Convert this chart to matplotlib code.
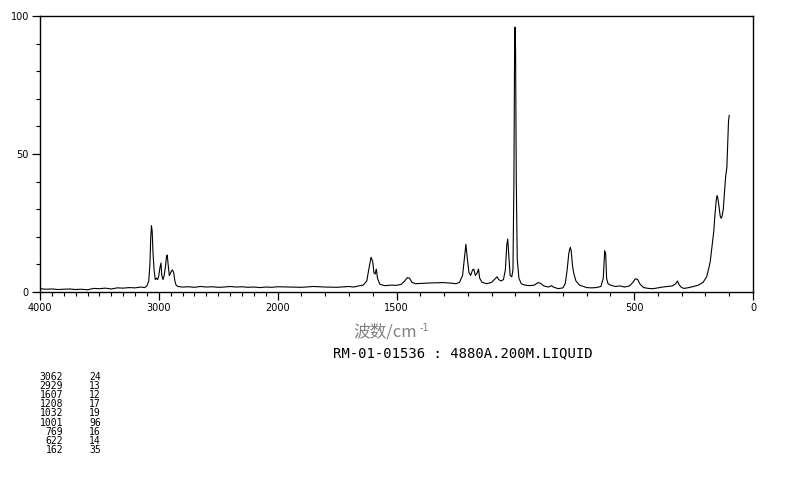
import numpy as np
import matplotlib
matplotlib.use("Agg")
import matplotlib.pyplot as plt

# Raman spectrum (wavenumber in cm-1, relative intensity)
wavenumber = [
    4000, 3950, 3900, 3850, 3800, 3750, 3700, 3650, 3600, 3550, 3500, 3450,
    3400, 3350, 3300, 3250, 3200, 3150, 3120, 3100, 3085, 3075, 3068, 3062,
    3056, 3050, 3040, 3030, 3020, 3010, 3000, 2990, 2982, 2975, 2965, 2955,
    2945, 2935, 2929, 2922, 2912, 2905, 2895, 2885, 2875, 2865, 2855, 2840,
    2800, 2750, 2700, 2650, 2600, 2550, 2500, 2450, 2400, 2350, 2300, 2250,
    2200, 2150, 2100, 2050, 2000, 1950, 1900, 1850, 1800, 1750, 1700, 1680,
    1660, 1640, 1625, 1615, 1607, 1600, 1595, 1590, 1585, 1580, 1570, 1550,
    1520, 1500, 1480, 1465, 1455, 1445, 1435, 1420, 1400, 1350, 1300, 1270,
    1250, 1235, 1222, 1212, 1208, 1202, 1195, 1188, 1180, 1175, 1168, 1160,
    1155, 1150, 1140, 1120, 1100, 1085, 1077, 1070, 1060, 1050, 1042, 1036,
    1032, 1028, 1022, 1015, 1010, 1006, 1003, 1001, 999, 996, 992, 985,
    975, 960, 940, 920, 905, 895, 880, 860, 848, 840, 820, 800,
    790, 782, 775, 769, 765, 760, 755, 745, 730, 700, 680, 660,
    640, 630, 624, 620, 616, 610, 600, 580, 560, 540, 520, 505,
    495, 485, 475, 460, 440, 420, 400, 380, 360, 340, 325, 318,
    310, 300, 290, 270, 250, 230, 210, 195, 185, 180, 172, 165,
    160, 155, 151, 148, 143, 138, 134, 130, 125, 120, 115, 110,
    106, 103, 100,
]
intensity = [
    1.2, 1.0, 1.1, 0.9, 1.0, 1.1, 0.9, 1.0, 0.8, 1.3, 1.2, 1.4,
    1.1, 1.5, 1.4, 1.6, 1.5, 1.8, 1.6, 2.2, 4.0, 10.0, 20.0, 24.0,
    22.0, 15.0, 8.0, 4.5, 5.0, 4.5, 6.0, 9.0, 10.5, 6.0, 4.5, 6.0,
    9.0, 13.0, 13.4, 10.0, 6.0, 6.5, 7.5, 8.0, 7.0, 4.0, 2.5, 2.0,
    1.8, 1.9, 1.7, 2.0, 1.8, 1.9, 1.7, 1.8, 2.0, 1.8, 1.9, 1.7,
    1.8, 1.6, 1.8, 1.7, 1.9, 1.8, 1.7, 2.0, 1.8, 1.7, 2.0, 1.8,
    2.2, 2.5, 4.0, 9.0, 12.6, 11.0, 7.0, 6.5, 8.3, 5.0, 2.8, 2.3,
    2.5, 2.4, 2.8, 4.0, 5.2, 5.0, 3.5, 3.0, 3.1, 3.3, 3.4, 3.2,
    3.0, 3.5, 6.0, 14.0, 17.3, 12.0, 7.0, 6.0, 8.0, 8.3, 6.0, 7.0,
    8.3, 5.0, 3.5, 3.0, 3.5, 4.8, 5.5, 4.5, 4.0, 4.5, 8.0, 17.0,
    19.2, 14.0, 6.0, 5.5, 8.0, 40.0, 90.0, 96.0, 88.0, 40.0, 12.0, 5.0,
    3.0, 2.5, 2.3, 2.5, 3.4, 3.2, 2.2, 1.8, 2.3, 1.8, 1.2, 1.5,
    3.0, 8.0, 14.0, 16.2, 15.0, 10.0, 7.0, 4.0, 2.5, 1.6, 1.5, 1.6,
    2.0, 5.0, 15.0, 14.0, 5.0, 3.0, 2.5, 2.0, 2.2, 1.8, 2.2, 3.5,
    4.8, 4.5, 2.8, 1.6, 1.3, 1.2, 1.5, 1.8, 2.0, 2.2, 3.0, 4.0,
    2.5, 1.6, 1.3, 1.6, 2.0, 2.5, 3.5, 5.5, 9.0, 11.0, 17.0, 22.0,
    28.0, 33.0, 35.0, 34.0, 31.0, 27.5, 26.7, 27.5, 30.0, 36.0, 42.0, 45.0,
    55.0, 62.0, 64.0,
]

peak_pos = ["3062", "2929", "1607", "1208", "1032", "1001", "769", "622", "162"]
peak_int = ["24", "13", "12", "17", "19", "96", "16", "14", "35"]

major_ticks = [4000, 3000, 2000, 1500, 500, 0]
minor_ticks = list(range(0, 4001, 100))


# wavenumber axis is compressed by 2 above 2000 cm-1
def fwd(w):
    w = np.asarray(w, dtype=float)
    return np.where(w > 2000, 2000 + (w - 2000) / 2, w)


def inv(u):
    u = np.asarray(u, dtype=float)
    return np.where(u > 2000, 2000 + (u - 2000) * 2, u)


plt.rcParams['font.family'] = ['Noto Sans CJK SC', 'DejaVu Sans']

fig = plt.figure(figsize=(7.94, 4.82), dpi=100)
ax = fig.add_axes([40 / 794, 1 - 292 / 482, 713 / 794, 276 / 482])

ax.plot(wavenumber, intensity, color="black", linewidth=0.8)

ax.set_xscale("function", functions=(fwd, inv))
ax.set_xlim(4000, 0)
ax.set_ylim(0, 100)

ax.set_xticks(major_ticks)
ax.set_xticklabels([str(t) for t in major_ticks], fontsize=7, family="DejaVu Sans")
ax.set_xticks(minor_ticks, minor=True)
ax.set_yticks([0, 50, 100])
ax.set_yticklabels(["0", "50", "100"], fontsize=7, family="DejaVu Sans")
ax.set_yticks(range(0, 101, 10), minor=True)
ax.tick_params(axis="both", which="major", direction="out", length=6, width=0.9, pad=2)
ax.tick_params(axis="both", which="minor", direction="out", length=3, width=0.8)
for s in ax.spines.values():
    s.set_linewidth(1.0)

fig.text(353 / 794, 1 - 332 / 482, "波数/cm", color="#808080", fontsize=12,
         ha="left", va="center")
fig.text(420 / 794, 1 - 328 / 482, "-1", color="#808080", fontsize=7,
         ha="left", va="center", family="DejaVu Sans")
fig.text(333 / 794, 1 - 353 / 482, "RM-01-01536 : 4880A.200M.LIQUID",
         family="DejaVu Sans Mono", fontsize=10, ha="left", va="center")

for i in range(len(peak_pos)):
    y = 1 - (377 + i * 9.1) / 482
    fig.text(63 / 794, y, peak_pos[i], family="DejaVu Sans Mono", fontsize=7,
             ha="right", va="center")
    fig.text(101 / 794, y, peak_int[i], family="DejaVu Sans Mono", fontsize=7,
             ha="right", va="center")

fig.savefig("out.png", dpi=100)
